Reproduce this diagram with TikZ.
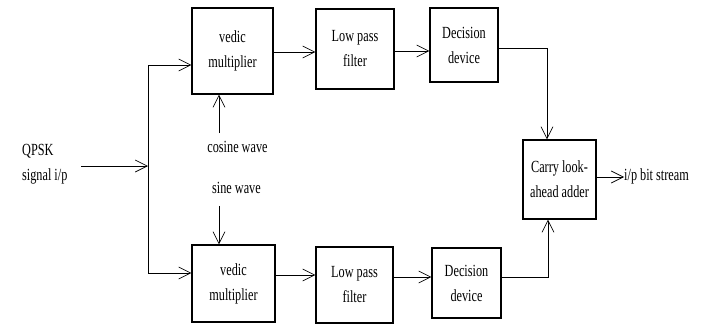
\documentclass[tikz,border=0pt]{standalone}
\usepackage{fontspec}
\setmainfont{Liberation Serif}[FakeStretch=0.72]
\usetikzlibrary{arrows.meta}
\begin{document}
\begin{tikzpicture}[x=1pt,y=-1pt,
  every node/.style={font=\fontsize{17}{25}\selectfont, text=black},
  blk/.style={draw, line width=1.1pt, inner sep=0pt, align=center},
  wire/.style={line width=1pt},
  arr/.style={wire, -{Straight Barb[length=12pt,width=12pt,line width=0.7pt]}}]
\useasboundingbox (0,0) rectangle (705,324);
\node[blk, minimum width=81pt, minimum height=86pt] (v1) at (232.5,51) {vedic\\multiplier};
\node[blk, minimum width=78pt, minimum height=80pt] (l1) at (355,49) {Low pass\\filter};
\node[blk, minimum width=68pt, minimum height=74pt] (d1) at (464,45) {Decision\\device};
\node[blk, minimum width=73pt, minimum height=79pt] (c) at (559.5,179.5) {Carry look-\\ahead adder};
\node[blk, minimum width=83pt, minimum height=77pt] (v2) at (233.5,283.5) {vedic\\multiplier};
\node[blk, minimum width=77pt, minimum height=76pt] (l2) at (354.5,285) {Low pass\\filter};
\node[blk, minimum width=69pt, minimum height=70pt] (d2) at (466.5,283) {Decision\\device};
\node[align=left, anchor=west, inner sep=0pt] (q) at (22,164.5) {QPSK\\signal i/p};
\node[anchor=west, inner sep=0pt] (o) at (624,176) {i/p bit stream};
\node[inner sep=0pt] (cw) at (237.5,147) {cosine wave};
\node[inner sep=0pt] (sw) at (236.5,188) {sine wave};
\coordinate (in) at (81,166);
\coordinate (sp) at (148,166);
\coordinate (st) at (148,65);
\coordinate (sb) at (148,273);
\draw[arr] (in) -- (sp);
\draw[wire] (st) -- (sb);
\draw[arr] (st) -- (st -| v1.west);
\draw[arr] (sb) -- (sb -| v2.west);
\draw[arr] (cw.north -| 219,0) ++(0,-8) -- (219,0 |- v1.south);
\draw[arr] (sw.south -| 219,0) ++(0,12) -- (219,0 |- v2.north);
\draw[arr] (v1.east |- 0,52) -- (l1.west |- 0,52);
\draw[arr] (l1.east |- 0,51) -- (d1.west |- 0,51);
\draw[arr] (v2.east |- 0,275) -- (l2.west |- 0,275);
\draw[arr] (l2.east |- 0,277) -- (d2.west |- 0,277);
\draw[arr] (d1.east |- 0,48) -| (c.north -| 547,0);
\draw[arr] (d2.east |- 0,277) -| (c.south -| 548,0);
\draw[arr] (c.east |- 0,177) -- (o.west |- 0,177);
\end{tikzpicture}
\end{document}
